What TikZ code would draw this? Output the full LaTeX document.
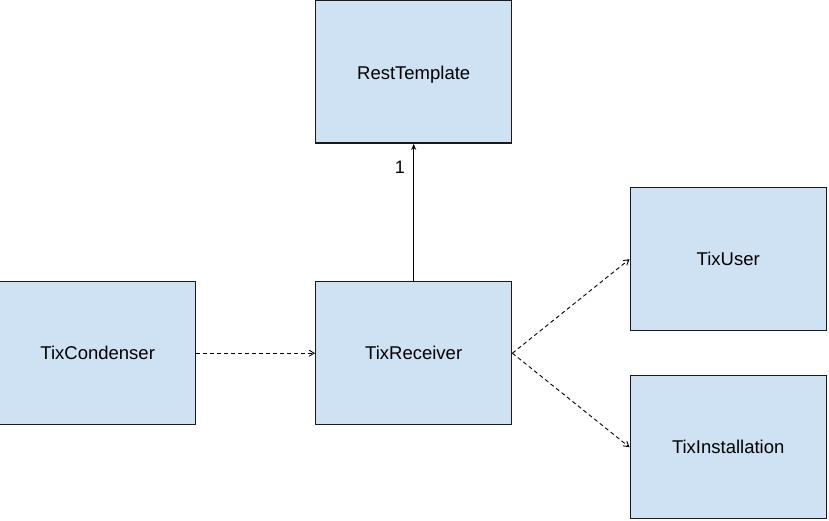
\documentclass[tikz,border=0pt]{standalone}
\usepackage{fontspec}
\setmainfont{Liberation Sans}
\usetikzlibrary{arrows.meta}
\definecolor{boxfill}{HTML}{CFE2F3}
\definecolor{boxline}{HTML}{1A1A1A}
\tikzset{
  cls/.style={draw=boxline, line width=1.4pt, fill=boxfill, minimum width=196pt, minimum height=143pt, inner sep=0pt, font=\fontsize{18.5}{20}\selectfont, anchor=north west},
  dep/.style={draw=black, line width=0.9pt, dash pattern=on 4pt off 3pt, -{Straight Barb[length=5pt,width=6pt]}},
  assoc/.style={draw=black, line width=0.9pt, -{Stealth[length=6pt,width=5pt]}}
}
\begin{document}
\begin{tikzpicture}[x=1pt,y=-1pt]
\useasboundingbox (0,0) rectangle (829,521);
\node[cls, text height=15.5pt, text depth=0pt] (rest) at (315,-0.5) {RestTemplate};
\node[cls] (cond) at (-1,281) {TixCondenser};
\node[cls] (recv) at (315,281) {TixReceiver};
\node[cls] (user) at (629.5,187) {TixUser};
\node[cls] (inst) at (629.5,375) {TixInstallation};
\draw[assoc] (recv.north) -- node[pos=0.83, left=5pt, font=\fontsize{18}{20}\selectfont] {1} (rest.south);
\draw[dep] (cond.east) -- (recv.west);
\draw[dep] (recv.east) -- (user.west);
\draw[dep] (recv.east) -- (inst.west);
\end{tikzpicture}
\end{document}
